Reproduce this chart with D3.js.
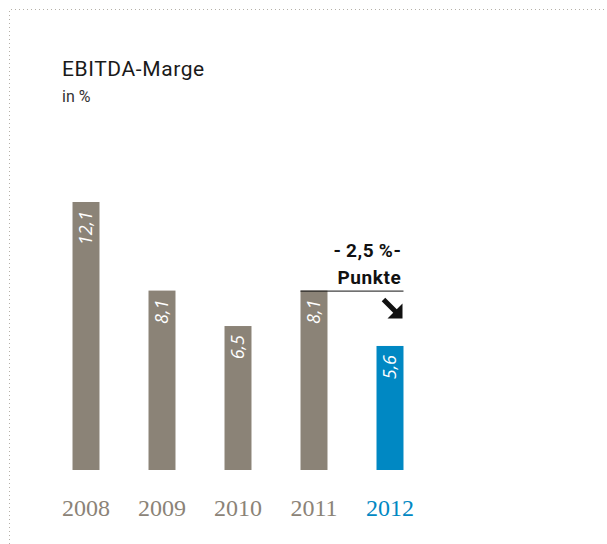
<!DOCTYPE html>
<html>
<head>
<meta charset="utf-8">
<script src="https://cdn.jsdelivr.net/npm/d3@7"></script>
<style>
  body { margin: 0; background: #fff; }
  svg { display: block; }
</style>
</head>
<body>
<svg width="607" height="544"></svg>
<script>
// data
const years = ['2008', '2009', '2010', '2011', '2012'];
const margins = [12.1, 8.1, 6.5, 8.1, 5.6];
const valueLabels = ['12,1', '8,1', '6,5', '8,1', '5,6'];
const changeLabel = ['-\u20092,5\u2009%-', 'Punkte'];

const GREY = '#8b8377';
const BLUE = '#0088c3';

const svg = d3.select('svg');

// dotted frame, top and left
svg.append('path')
    .attr('d', 'M9.5,544 V9.5 H607')
    .attr('fill', 'none')
    .attr('stroke', '#b5b0a8')
    .attr('stroke-width', 1)
    .attr('stroke-dasharray', '1,3');

// title
svg.append('text')
    .attr('x', 62).attr('y', 76)
    .attr('font-family', 'Roboto, sans-serif')
    .attr('font-size', 21)
    .attr('letter-spacing', 0.6)
    .attr('fill', '#1a1a1a')
    .text('EBITDA-Marge');
svg.append('text')
    .attr('x', 62).attr('y', 102)
    .attr('font-family', 'Roboto, sans-serif')
    .attr('font-size', 16)
    .attr('fill', '#333')
    .text('in %');

const xScale = d3.scaleBand()
    .domain(years)
    .range([48, 428])
    .paddingInner(0.645)
    .paddingOuter(0.3225);

const yScale = d3.scaleLinear()
    .domain([0, 12.1])
    .range([470, 202]);

const data = years.map((y, i) => ({ year: y, value: margins[i], label: valueLabels[i] }));
const colorOf = d => d.year === '2012' ? BLUE : GREY;

svg.selectAll('.bar')
    .data(data)
    .enter()
    .append('rect')
    .classed('bar', true)
    .attr('x', d => xScale(d.year))
    .attr('y', d => yScale(d.value))
    .attr('width', xScale.bandwidth())
    .attr('height', d => yScale(0) - yScale(d.value))
    .attr('fill', colorOf);

// value labels, rotated inside bar tops
svg.selectAll('.val')
    .data(data)
    .enter()
    .append('text')
    .classed('val', true)
    .attr('transform', d => `translate(${xScale(d.year) + xScale.bandwidth() / 2 + 6},${yScale(d.value) + 9}) rotate(-90)`)
    .attr('text-anchor', 'end')
    .attr('font-family', 'Open Sans, sans-serif')
    .attr('font-style', 'italic')
    .attr('font-size', 18)
    .attr('fill', '#fff')
    .text(d => d.label);

// year labels
svg.selectAll('.year')
    .data(data)
    .enter()
    .append('text')
    .classed('year', true)
    .attr('x', d => xScale(d.year) + xScale.bandwidth() / 2)
    .attr('y', 516)
    .attr('text-anchor', 'middle')
    .attr('font-family', 'Liberation Serif, DejaVu Serif, serif')
    .attr('font-size', 24)
    .attr('fill', colorOf)
    .text(d => d.year);

// change annotation
const x11 = xScale('2011');
const x12 = xScale('2012') + xScale.bandwidth();
const yPrev = yScale(margins[3]);

svg.append('line')
    .attr('x1', x11).attr('x2', x12)
    .attr('y1', yPrev + 0.5).attr('y2', yPrev + 0.5)
    .attr('stroke', '#111')
    .attr('stroke-width', 1);

svg.selectAll('.chg')
    .data(changeLabel)
    .enter()
    .append('text')
    .classed('chg', true)
    .attr('x', x12 - 2)
    .attr('y', (d, i) => yPrev - 34 + i * 27)
    .attr('text-anchor', 'end')
    .attr('font-family', 'Roboto, sans-serif')
    .attr('font-weight', 'bold')
    .attr('font-size', 19)
    .attr('letter-spacing', 0.6)
    .attr('fill', '#111')
    .text(d => d);

// arrow pointing down-right
const ax = x12 - 1, ay = yPrev + 28;
svg.append('path')
    .attr('d', `M${ax - 19},${ay - 19} L${ax - 5},${ay - 5}`)
    .attr('stroke', '#111')
    .attr('stroke-width', 5);
svg.append('path')
    .attr('d', `M${ax},${ay} L${ax},${ay - 15} L${ax - 15},${ay} Z`)
    .attr('fill', '#111');
</script>
</body>
</html>
